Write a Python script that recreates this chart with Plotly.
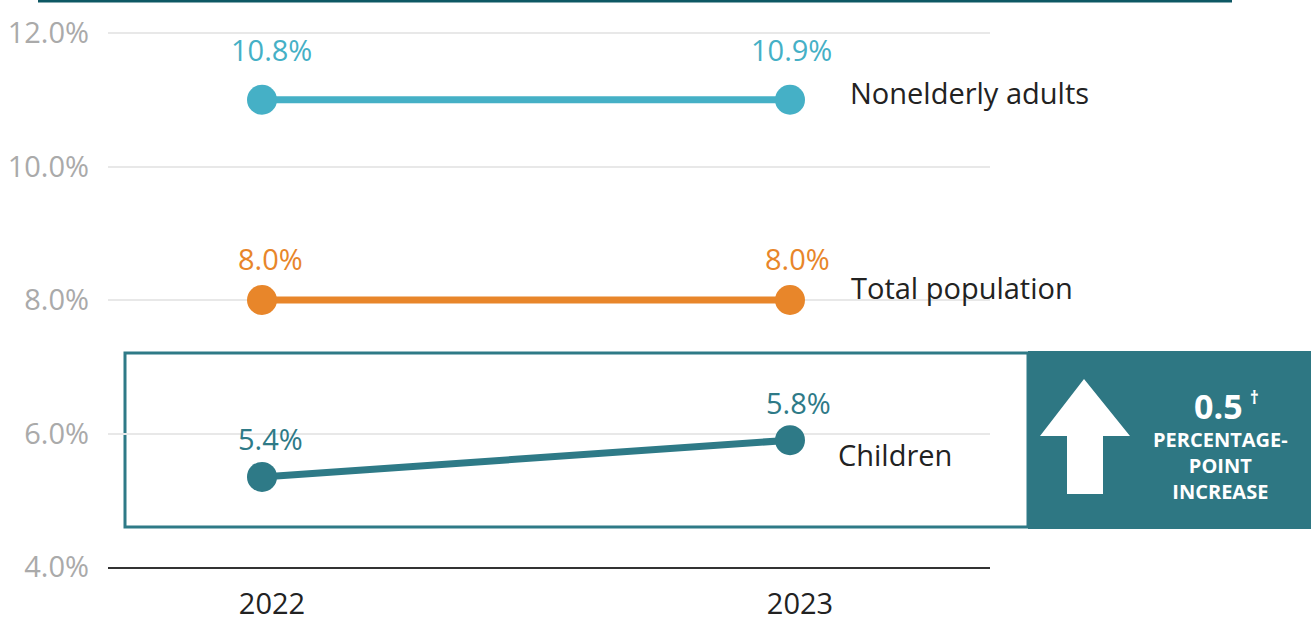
import plotly.graph_objects as go

# ---- data ----
years = [2022, 2023]
series_names = ["Nonelderly adults", "Total population", "Children"]
adults = [11.0, 11.0]
total = [8.0, 8.0]
children = [5.35, 5.9]
adults_labels = ["10.8%", "10.9%"]
total_labels = ["8.0%", "8.0%"]
children_labels = ["5.4%", "5.8%"]
y_ticks = [4, 6, 8, 10, 12]
y_tick_text = ["4.0%", "6.0%", "8.0%", "10.0%", "12.0%"]
x_tick_text = ["2022", "2023"]
change_value = "0.5"
change_text = ["PERCENTAGE-", "POINT", "INCREASE"]

# ---- styling ----
W, H = 1316, 621
L, R = 108, 990          # plot area pixel bounds (x)
T, B = 13, 567           # plot area pixel bounds (y)
PX_PER_YEAR = 528
TICK_DX = 10             # x tick labels sit slightly right of the points
FONT = "Open Sans"
FS = 29
C_ADULT = "#45b0c6"
C_TOTAL = "#e8862a"
C_CHILD = "#2e7a87"
C_PANEL = "#2e7783"

def px(x):
    return (x - L) / (R - L)

def py(y):
    return (B - y) / (B - T)

fig = go.Figure()
# (values, labels, colour, label y-shift, label x-shifts, name dx, name dy)
series = [
    (adults, adults_labels, C_ADULT, 50, [9, 1], 60, 7),
    (total, total_labels, C_TOTAL, 42, [8, 7], 61, 13),
    (children, children_labels, C_CHILD, 38, [8, 8], 48, -14),
]
for (vals, labs, col, lab_shift, lab_dx, name_dx, name_dy), name in zip(series, series_names):
    fig.add_trace(go.Scatter(
        x=years, y=vals, mode="lines+markers",
        line=dict(color=col, width=7),
        marker=dict(size=30, color=col),
        showlegend=False, hoverinfo="skip", cliponaxis=False,
    ))
    for xv, yv, t, dx in zip(years, vals, labs, lab_dx):
        fig.add_annotation(x=xv, y=yv, text=t, showarrow=False, yshift=lab_shift,
                           xshift=dx, xanchor="center", yanchor="middle",
                           font=dict(family=FONT, size=FS, color=col))
    fig.add_annotation(x=years[-1], y=vals[-1], text=name, showarrow=False,
                       xanchor="left", yanchor="middle", xshift=name_dx - 2, yshift=name_dy,
                       font=dict(family=FONT, size=FS, color="#222222"))

shapes = []
# top rule
shapes.append(dict(type="line", xref="paper", yref="paper",
                   x0=px(38), x1=px(1232), y0=py(1), y1=py(1),
                   line=dict(color="#0e5864", width=3)))
# highlight box
shapes.append(dict(type="rect", xref="paper", yref="paper",
                   x0=px(125), x1=px(1028), y0=py(527), y1=py(353),
                   line=dict(color=C_CHILD, width=3), layer="below"))
# panel
shapes.append(dict(type="rect", xref="paper", yref="paper",
                   x0=px(1028), x1=px(1311), y0=py(529), y1=py(351),
                   line=dict(width=0), fillcolor=C_PANEL))
# arrow
pts = [(1084, 379), (1130, 436), (1103, 436), (1103, 494), (1067, 494), (1067, 436), (1040, 436)]
path = "M " + " L ".join(f"{px(a):.5f},{py(b):.5f}" for a, b in pts) + " Z"
shapes.append(dict(type="path", xref="paper", yref="paper", path=path,
                   fillcolor="white", line=dict(width=0)))
fig.update_layout(shapes=shapes)

fig.add_annotation(xref="paper", yref="paper", x=px(1218), y=py(406),
                   text=f"<b>{change_value}</b>", showarrow=False,
                   xanchor="center", yanchor="middle",
                   font=dict(family=FONT, size=34, color="white"))
fig.add_annotation(xref="paper", yref="paper", x=px(1254), y=py(397),
                   text="<b>†</b>", showarrow=False,
                   xanchor="center", yanchor="middle",
                   font=dict(family=FONT, size=17, color="white"))
fig.add_annotation(xref="paper", yref="paper", x=px(1220), y=py(465),
                   text="<br>".join(f"<b>{t}</b>" for t in change_text), showarrow=False,
                   xanchor="center", yanchor="middle", align="center",
                   font=dict(family=FONT, size=20, color="white"))

y_min, y_max = 4, 4 + (B - T) / 66.75
fig.update_layout(
    width=W, height=H,
    margin=dict(l=L, r=W - R, t=T, b=H - B, pad=0),
    paper_bgcolor="white", plot_bgcolor="white",
    xaxis=dict(range=[2022 - (262 - L) / PX_PER_YEAR, 2023 + (R - 790) / PX_PER_YEAR],
               tickvals=[y + TICK_DX / PX_PER_YEAR for y in years], ticktext=x_tick_text,
               showgrid=False,
               showline=True, linecolor="#333333", linewidth=2,
               zeroline=False, ticks="", ticklabelstandoff=10, automargin=False,
               tickfont=dict(family=FONT, size=FS, color="#222222")),
    yaxis=dict(range=[y_min, y_max], tickvals=y_ticks, ticktext=y_tick_text,
               showgrid=True, gridcolor="#e8e8e8", gridwidth=2,
               zeroline=False, showline=False, ticks="", ticklabelstandoff=18,
               automargin=False,
               tickfont=dict(family=FONT, size=FS, color="#aaaaaa")),
)

fig.write_html(
    "out.html",
    config={"displayModeBar": False},
    post_script="document.body.style.margin='0';document.body.style.overflow='hidden';",
)
